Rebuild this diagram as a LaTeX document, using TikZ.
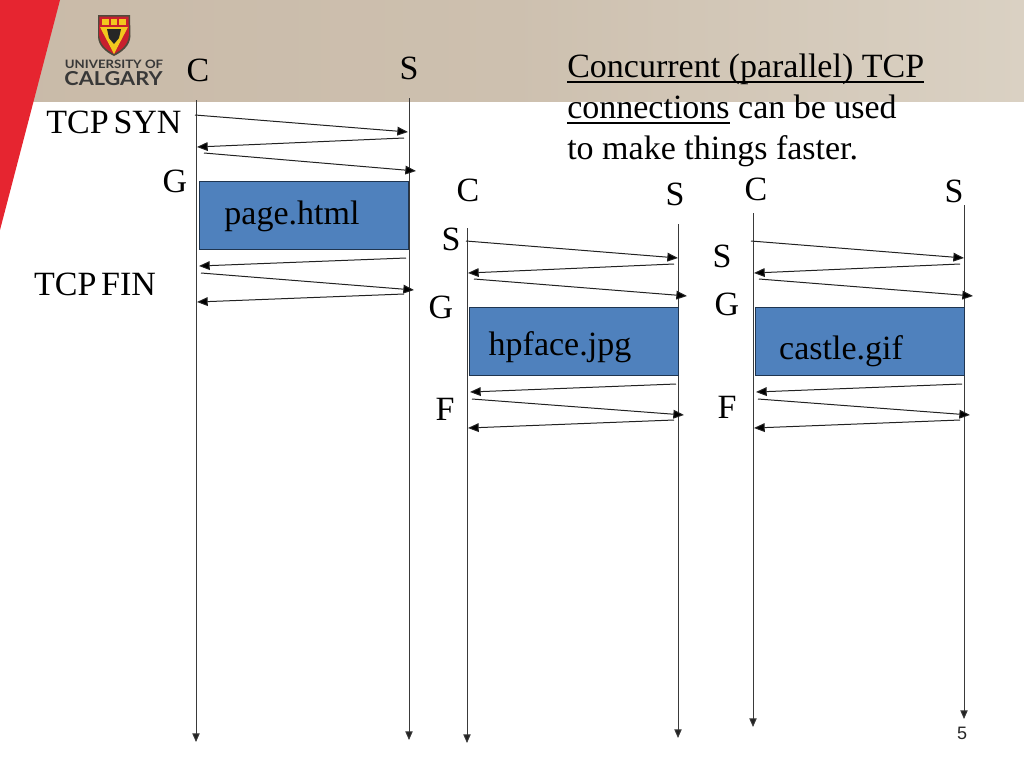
\documentclass[tikz,border=0pt]{standalone}
\usepackage{fontspec}
\setmainfont{Liberation Serif}
\setsansfont{Liberation Sans}
\newfontfamily\logofont{Lato}
\usetikzlibrary{arrows.meta}
\definecolor{bandl}{HTML}{C9BAA8}
\definecolor{bandm}{HTML}{CDC0AF}
\definecolor{bandr}{HTML}{DAD1C3}
\definecolor{ured}{HTML}{E62530}
\definecolor{boxblue}{HTML}{4F81BD}
\definecolor{boxline}{HTML}{1F3550}
\definecolor{lineg}{HTML}{222222}
\definecolor{lifeg}{HTML}{3A3A3A}
\definecolor{ugold}{HTML}{F2C81E}
\definecolor{ushred}{HTML}{C8202E}
\tikzset{
 x=0.75pt,y=-0.75pt,
 lbl/.style={font=\fontsize{25.5}{30}\selectfont,inner sep=0,text=black},
 life/.style={draw=lifeg,line width=0.7pt,-{Triangle[length=6.5pt,width=5.5pt,fill=lineg]}},
 msg/.style={draw=lineg,line width=0.75pt,-{Triangle[length=8pt,width=6.5pt,fill=black]}},
 databox/.style={draw=boxline,line width=0.75pt,fill=boxblue,inner sep=0,anchor=north west},
}
\newsavebox{\ulinebox}
\newcommand{\ulinetext}[1]{\sbox{\ulinebox}{#1}\rlap{\rule[-3.6pt]{\wd\ulinebox}{1.1pt}}\usebox{\ulinebox}}
\begin{document}
\begin{tikzpicture}
\useasboundingbox (0,0) rectangle (1024,768);
% header
\shade[left color=bandl,right color=bandm] (0,0) rectangle (512,101);
\shade[left color=bandm,right color=bandr] (512,0) rectangle (1024,101);
\fill[ured] (0,0) -- (60,0) -- (0,230) -- cycle;
% logo
\fill[black!80!yellow] (98,15) -- (130,15) -- (130.5,36) .. controls (130,46) and (122,52) .. (114,56) .. controls (106,52) and (98,46) .. (98,36) -- cycle;
\fill[ushred] (99.5,16.5) -- (128.5,16.5) -- (129,33) .. controls (129,45) and (121,50) .. (114,54) .. controls (107,50) and (99,45) .. (99,33) -- cycle;
\fill[ugold] (102,19) rectangle (109,24.5);
\fill[ugold] (119,19) rectangle (126,24.5);
\fill[ugold] (111,19) rectangle (117,24.5);
\fill[ugold] (100,27) -- (128,27) -- (114,54) -- cycle;
\fill[ushred] (102,34) -- (108,43) -- (111,49) -- cycle;
\fill[ushred] (126,34) -- (120,43) -- (117,49) -- cycle;
\fill[black!85] (107,29) -- (121,29) -- (119,38) -- (114,44) -- (109,38) -- cycle;
\node[inner sep=0,text=black!78,xscale=1.14] (logoa) at (114,64) {\logofont\bfseries\fontsize{8.7}{9}\selectfont UNIVERSITY OF};
\node[inner sep=0,text=black!78,xscale=1.13] (logob) at (113.5,79) {\logofont\bfseries\fontsize{14.4}{15}\selectfont CALGARY};
% lifelines
\coordinate (c1t) at (196,100); \coordinate (c1b) at (196,742);
\coordinate (s1t) at (409,98);  \coordinate (s1b) at (409,740);
\coordinate (c2t) at (467,228); \coordinate (c2b) at (467,743);
\coordinate (s2t) at (678,224); \coordinate (s2b) at (678,738);
\coordinate (c3t) at (753,213); \coordinate (c3b) at (753,727);
\coordinate (s3t) at (964,205); \coordinate (s3b) at (964,719);
\foreach \a/\b in {c1t/c1b,s1t/s1b,c2t/c2b,s2t/s2b,c3t/c3b,s3t/s3b}
  \draw[life] (\a) -- (\b);
% boxes
\node[databox,minimum width=157.1pt,minimum height=51pt] (box1) at (198.7,181) {};
\node[databox,minimum width=156.75pt,minimum height=51pt] (box2) at (469,307) {};
\node[databox,minimum width=156.75pt,minimum height=51pt] (box3) at (755,307) {};
\node[lbl] (page) at (292,216) {page.html};
\node[lbl] (hp) at (560,347) {hpface.jpg};
\node[lbl] (castle) at (841,351) {castle.gif};
% messages
\foreach \n/\xa/\ya/\xb/\yb in {
 1/195/115/408/132, 2/404/138/197/147, 3/204/153/416/171,
 4/406/258/199/266, 5/201/273/414/290, 6/404/294/197/302,
 7/466/241/678/258, 8/674/264/468/273, 9/474/279/687/296,
 10/676/384/470/392, 11/472/399/684/415, 12/674/420/468/428,
 13/751/241/964/258, 14/960/264/754/273, 15/759/279/973/296,
 16/962/384/756/392, 17/758/399/970/415, 18/960/420/754/428}{
  \coordinate (m\n s) at (\xa,\ya);
  \coordinate (m\n e) at (\xb,\yb);
  \draw[msg] (m\n s) -- (m\n e);
}
% labels
\node[lbl] (lc1) at (198,70) {C};
\node[lbl] (ls1) at (409,68) {S};
\node[lbl] (syn) at (114,122) {\spaceskip=0.14em TCP SYN};
\node[lbl] (lg1) at (175,181) {G};
\node[lbl] (fin) at (95,284) {\spaceskip=0.14em TCP FIN};
\node[lbl] (lc2) at (468,190) {C};
\node[lbl] (ls2) at (675,194) {S};
\node[lbl] (lc3) at (756,189) {C};
\node[lbl] (ls3) at (954,191) {S};
\node[lbl] (ls2b) at (451,239) {S};
\node[lbl] (ls3b) at (722,256) {S};
\node[lbl] (lg2) at (441,307) {G};
\node[lbl] (lg3) at (727,304) {G};
\node[lbl] (lf2) at (445,409) {F};
\node[lbl] (lf3) at (727,407) {F};
\node[lbl,anchor=north west,align=left,font=\fontsize{25.5}{30.75}\selectfont] (title) at (567,54)
 {\ulinetext{Concurrent (parallel) TCP}\\ \ulinetext{connections} can be used\\ to make things faster.};
\node[inner sep=0,font=\sffamily\fontsize{13.5}{16}\selectfont,text=black!85] (pg) at (962,733) {5};
\end{tikzpicture}
\end{document}
